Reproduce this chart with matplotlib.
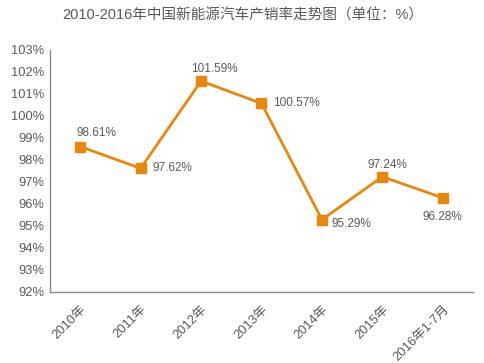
import matplotlib
matplotlib.use("Agg")
import matplotlib.pyplot as plt

plt.rcParams['font.family'] = ['Liberation Sans', 'Noto Sans CJK SC', 'DejaVu Sans']

categories = ["2010年", "2011年", "2012年", "2013年", "2014年", "2015年", "2016年1-7月"]
values = [98.61, 97.62, 101.59, 100.57, 95.29, 97.24, 96.28]
yticks = list(range(92, 104))
label_offsets = [(11.5, 10), (23, 0), (9.4, 8.6), (25, 0), (21, -3), (3.6, 8.6), (0, -14)]

color = "#E8860E"
grey = "#595959"

fig = plt.figure(figsize=(4.85, 3.63), dpi=100)
ax = fig.add_axes([50/485, 1-292/363, 423/485, (292-50)/363])

x = list(range(len(categories)))
ax.plot(x, values, color=color, lw=2.0, marker='s', ms=7, mec=color, mfc=color)
for xi, v, (dx, dy) in zip(x, values, label_offsets):
    ax.annotate(f"{v:.2f}%", (xi, v), xytext=(dx, dy), textcoords='offset points',
                ha='center', va='center', fontsize=8.5, color=grey)

ax.set_xlim(-0.5, len(categories) - 0.5)
ax.set_ylim(92, 103)
ax.set_yticks(yticks)
ax.set_yticklabels([f"{t}%" for t in yticks], fontsize=9.3, color=grey)
ax.set_xticks(x)
ax.set_xticklabels(categories, rotation=45, ha='right', rotation_mode='anchor', fontsize=9.3, color=grey)
ax.tick_params(axis='both', length=0, pad=4)
ax.tick_params(axis='x', pad=8)
for s in ['top', 'right']:
    ax.spines[s].set_visible(False)
for s in ['left', 'bottom']:
    ax.spines[s].set_color('#888888')
    ax.spines[s].set_linewidth(1.0)

fig.text(0.5, 1-16/363, "2010-2016年中国新能源汽车产销率走势图（单位：%）", ha='center', va='center',
         fontsize=10.5, color=grey)

fig.savefig("out.png", dpi=100)
